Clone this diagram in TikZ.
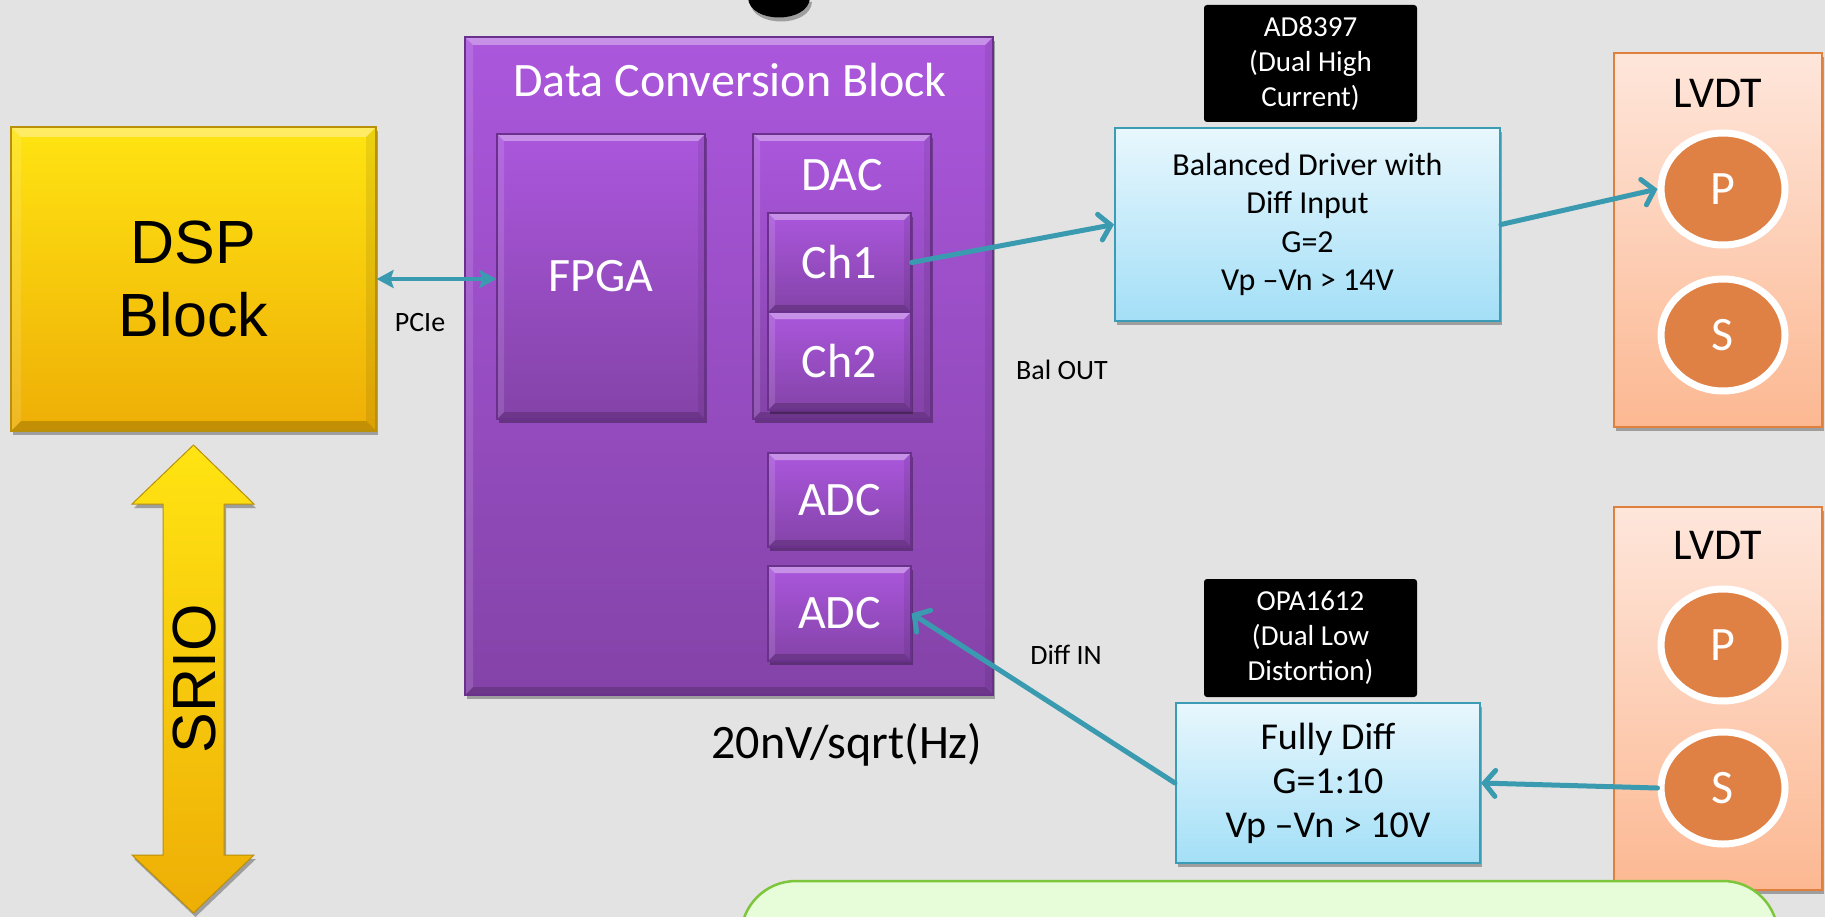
\documentclass[tikz,border=0pt]{standalone}
\usepackage{fontspec}
\setmainfont{Carlito}
\newfontfamily\arialf{Liberation Sans}
\usetikzlibrary{arrows.meta,shadows,shapes.geometric}
\definecolor{bgc}{HTML}{E3E3E3}
\definecolor{dspTop}{HTML}{FFE412}
\definecolor{dspBot}{HTML}{EEAE06}
\definecolor{dspLine}{HTML}{B8900A}
\definecolor{purTop}{HTML}{AB57DD}
\definecolor{purBot}{HTML}{8443A8}
\definecolor{purLine}{HTML}{6A318C}
\definecolor{blueTop}{HTML}{E8F7FD}
\definecolor{blueBot}{HTML}{A3DFF7}
\definecolor{blueLine}{HTML}{3A9DB5}
\definecolor{lvTop}{HTML}{FEE6DB}
\definecolor{lvBot}{HTML}{FCB892}
\definecolor{lvLine}{HTML}{E0803F}
\definecolor{ellFill}{HTML}{DF8144}
\definecolor{tealc}{HTML}{3A9BB0}
\definecolor{grFill}{HTML}{E7FDDA}
\definecolor{grLine}{HTML}{7DC63C}
\begin{document}
\begin{tikzpicture}[x=1pt,y=-1pt,
  bevel/.style={path picture={
    \fill[white,opacity=.35] (path picture bounding box.north west) -- (path picture bounding box.north east) -- ([shift={(-#1,-#1)}]path picture bounding box.north east) -- ([shift={(#1,-#1)}]path picture bounding box.north west) -- cycle;
    \fill[black,opacity=.18] (path picture bounding box.south west) -- (path picture bounding box.south east) -- ([shift={(-#1,#1)}]path picture bounding box.south east) -- ([shift={(#1,#1)}]path picture bounding box.south west) -- cycle;
    \fill[black,opacity=.08] (path picture bounding box.north east) -- (path picture bounding box.south east) -- ([shift={(-#1,#1)}]path picture bounding box.south east) -- ([shift={(-#1,-#1)}]path picture bounding box.north east) -- cycle;
    \fill[white,opacity=.12] (path picture bounding box.north west) -- (path picture bounding box.south west) -- ([shift={(#1,#1)}]path picture bounding box.south west) -- ([shift={(#1,-#1)}]path picture bounding box.north west) -- cycle;
  }},
  shad/.style={drop shadow={shadow xshift=2pt,shadow yshift=-4pt,opacity=.3,fill=black}},
  dspbox/.style={rectangle, inner sep=0pt, draw=dspLine, line width=1.2pt, top color=dspTop, bottom color=dspBot, bevel=10pt, shad},
  purbox/.style={rectangle, inner sep=0pt, draw=purLine, line width=1.2pt, top color=purTop, bottom color=purBot, bevel=8pt, shad, text=white, font=\fontsize{48}{58}\selectfont},
  bluebox/.style={rectangle, inner sep=0pt, draw=blueLine, line width=2pt, top color=blueTop, bottom color=blueBot, shad, align=center},
  blk/.style={rectangle, rounded corners=3pt, inner sep=0pt, fill=black, text=white, align=center, font=\fontsize{29}{35}\selectfont},
  lvbox/.style={rectangle, inner sep=0pt, draw=lvLine, line width=2pt, top color=lvTop, bottom color=lvBot, shad},
  coil/.style={ellipse, inner sep=0pt, fill=ellFill, draw=white, line width=7pt, minimum width=124pt, minimum height=112pt, text=white, font=\fontsize{48}{58}\selectfont},
  conn/.style={draw=tealc, line width=5pt, line cap=round, -{Straight Barb[length=11pt,width=26pt,line cap=round]}},
  pcie/.style={draw=tealc, line width=3.5pt, {Stealth[length=17pt,width=18pt,inset=3pt]}-{Stealth[length=17pt,width=18pt,inset=3pt]}},
  lbl/.style={text=black, font=\fontsize{28}{33}\selectfont},
  big/.style={font=\fontsize{48}{58}\selectfont}
]
\fill[bgc] (0,0) rectangle (1825,917);
\useasboundingbox (0,0) rectangle (1825,917);

% cut-off glyph at the top
\fill[black, shad] (748,-2) .. controls (750,24) and (808,24) .. (810,-2) -- cycle;

% DSP block
\node[dspbox, minimum width=365pt, minimum height=304pt, align=center, font=\arialf\fontsize{61}{73}\selectfont] (dsp) at (193.5,279) {DSP\\Block};

% SRIO double arrow
\path[draw=dspLine, line width=1pt, top color=dspTop, bottom color=dspBot, shad]
  (193.5,445) -- (254,504) -- (224,504) -- (224,855) -- (254,855) -- (193.5,913)
  -- (132,855) -- (163,855) -- (163,504) -- (132,504) -- cycle;
\node[rotate=90, font=\arialf\fontsize{61}{73}\selectfont] (srio) at (194,679) {SRIO};

% Data conversion block
\node[purbox, minimum width=528pt, minimum height=658pt] (dcb) at (729,366) {};
\node[text=white, big] (dcbt) at (730,80) {Data Conversion Block};
\node[purbox, bevel=7pt, minimum width=208pt, minimum height=285pt] (fpga) at (601,276.5) {FPGA};
\node[purbox, bevel=7pt, minimum width=178pt, minimum height=285pt] (dac) at (842,276.5) {};
\node[text=white, big] (dact) at (842,175) {DAC};
\node[purbox, bevel=7pt, minimum width=143pt, minimum height=99pt] (ch1) at (839.5,262.5) {Ch1};
\node[purbox, bevel=7pt, minimum width=143pt, minimum height=98pt] (ch2) at (839.5,361) {Ch2};
\node[purbox, bevel=7pt, minimum width=143pt, minimum height=94pt] (adc1) at (839.5,500) {ADC};
\node[purbox, bevel=7pt, minimum width=143pt, minimum height=95pt] (adc2) at (839.5,613.5) {ADC};
\node[big] (noise) at (847,745) {20nV/sqrt(Hz)};

% PCIe link
\draw[pcie] (dsp.east) -- (dsp.east -| fpga.west);
\node[lbl] (pcielbl) at (420,323) {PCIe};

% Driver chain
\node[blk, minimum width=213pt, minimum height=117pt] (ad) at (1310.5,63.5) {AD8397\\(Dual High\\Current)};
\node[bluebox, minimum width=385pt, minimum height=193pt, font=\fontsize{32}{38.5}\selectfont] (bal) at (1307.5,224.5) {Balanced Driver with\\Diff Input\\G=2\\Vp –Vn > 14V};
\node[blk, minimum width=213pt, minimum height=118pt] (opa) at (1310.5,638) {OPA1612\\(Dual Low\\Distortion)};
\node[bluebox, minimum width=304pt, minimum height=160pt, font=\fontsize{38}{44}\selectfont] (fd) at (1328,783) {Fully Diff\\G=1:10\\Vp –Vn > 10V};
\node[lbl] (balout) at (1062,370) {Bal OUT};
\node[lbl] (diffin) at (1066,655) {Diff IN};

% LVDTs
\node[lvbox, minimum width=208pt, minimum height=374pt] (lv1) at (1718,240) {};
\node[font=\fontsize{44}{52}\selectfont] (lv1t) at (1718,93) {LVDT};
\node[coil] (p1) at (1723,189) {P};
\node[coil] (s1) at (1723,335) {S};
\node[lvbox, minimum width=208pt, minimum height=383pt] (lv2) at (1718,698.5) {};
\node[font=\fontsize{44}{52}\selectfont] (lv2t) at (1718,545) {LVDT};
\node[coil] (p2) at (1723,645) {P};
\node[coil] (s2) at (1723,788) {S};

% connectors
\draw[conn] (ch1.east) -- (bal.west);
\draw[conn] (bal.east) -- (p1.west);
\draw[conn] (s2.west) -- (fd.east);
\draw[conn] (fd.west) -- (adc2.east);

% green note box
\draw[draw=grLine, line width=2.5pt, fill=grFill, rounded corners=55pt] (741,881) rectangle (1778,990);
\end{tikzpicture}
\end{document}
